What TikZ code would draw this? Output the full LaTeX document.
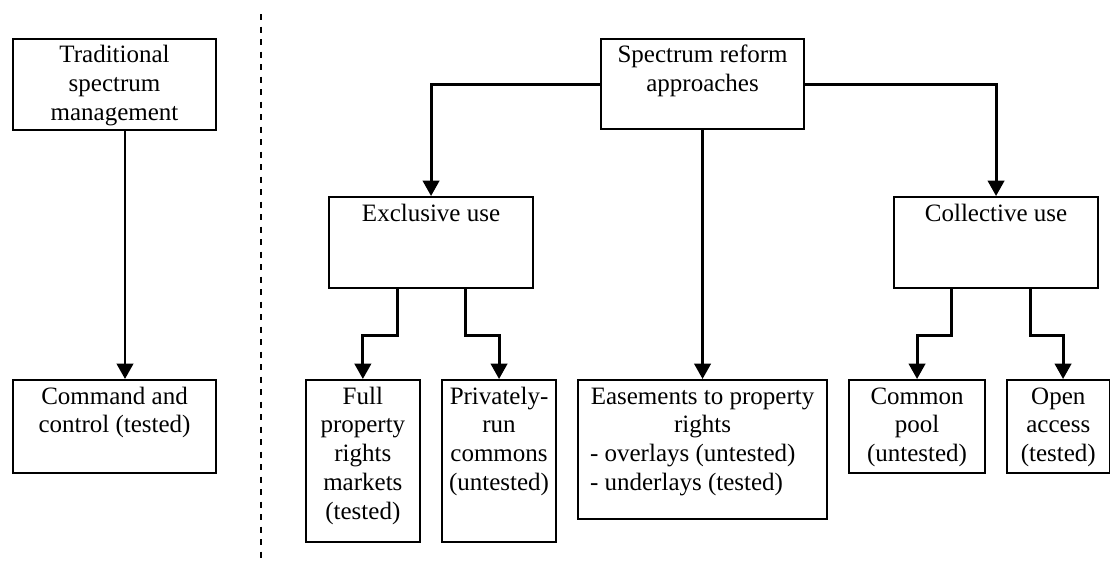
\documentclass[tikz,border=0pt]{standalone}
\usepackage{fontspec}
\setmainfont{Liberation Serif}
\usetikzlibrary{arrows.meta}
\newcommand{\fs}{\fontsize{25}{28.8}\selectfont}
\newcommand{\cb}[3]{\parbox[c][#2][t]{#1}{\centering\rule{0pt}{24pt}#3\par}}
\tikzset{
  bx/.style={draw, line width=2.1pt, inner xsep=0pt, inner ysep=0pt, anchor=north west, font=\fs},
  con/.style={line width=2.9pt},
  arr/.style={con, -{Triangle[length=15.5pt,width=16.5pt]}},
  divider/.style={line width=1.8pt, dash pattern=on 6pt off 6.5pt},
}
\begin{document}
\begin{tikzpicture}[x=1pt,y=-1pt]
\useasboundingbox (0,0) rectangle (1110,566);
% left part
\node[bx] (trad) at (12,37.7) {\cb{203pt}{91.3pt}{Traditional\\spectrum\\management}};
\node[bx] (cmd) at (12,379) {\cb{203pt}{93pt}{Command and\\control (tested)}};
\coordinate (tx) at (125,0);
\draw[arr] (trad.south -| tx) -- (cmd.north -| tx);
% divider
\coordinate (dtop) at (260.7,14);
\coordinate (dbot) at (260.7,563);
\draw[divider] (dtop) -- (dbot);
% right part
\node[bx] (spec) at (600,37.7) {\cb{203pt}{90.6pt}{Spectrum reform\\approaches}};
\node[bx] (excl) at (328,196) {\cb{204pt}{90.7pt}{Exclusive use}};
\node[bx] (coll) at (893,196) {\cb{204pt}{90.7pt}{Collective use}};
\node[bx] (full) at (305,379) {\cb{113.6pt}{162pt}{Full\\property\\rights\\markets\\(tested)}};
\node[bx] (priv) at (441,379) {\cb{114pt}{162pt}{Privately-\\run\\commons\\(untested)}};
\node[bx, inner xsep=12pt] (ease) at (577,379) {\parbox[c][139pt][t]{225pt}{{\centering\rule{0pt}{24pt}Easements to property\\rights\par}{\raggedright - overlays (untested)\\- underlays (tested)\par}}};
\node[bx] (comm) at (848,379) {\cb{136pt}{93pt}{Common\\pool\\(untested)}};
\node[bx] (open) at (1006,379) {\cb{102.5pt}{93pt}{Open\\access\\(tested)}};
% connectors
\draw[arr] (spec.west) -| (excl.north);
\draw[arr] (spec.east) -| (coll.north);
\draw[arr] (spec.south) -- (ease.north);
\draw[arr] ([xshift=-34pt]excl.south) -- ++(0,46.5) -| (full.north);
\draw[arr] ([xshift=34pt]excl.south) -- ++(0,46.5) -| (priv.north);
\draw[arr] ([xshift=-44.3pt]coll.south) -- ++(0,46.5) -| (comm.north);
\draw[arr] ([xshift=34pt]coll.south) -- ++(0,46.5) -| ([xshift=4.75pt]open.north);
\end{tikzpicture}
\end{document}
